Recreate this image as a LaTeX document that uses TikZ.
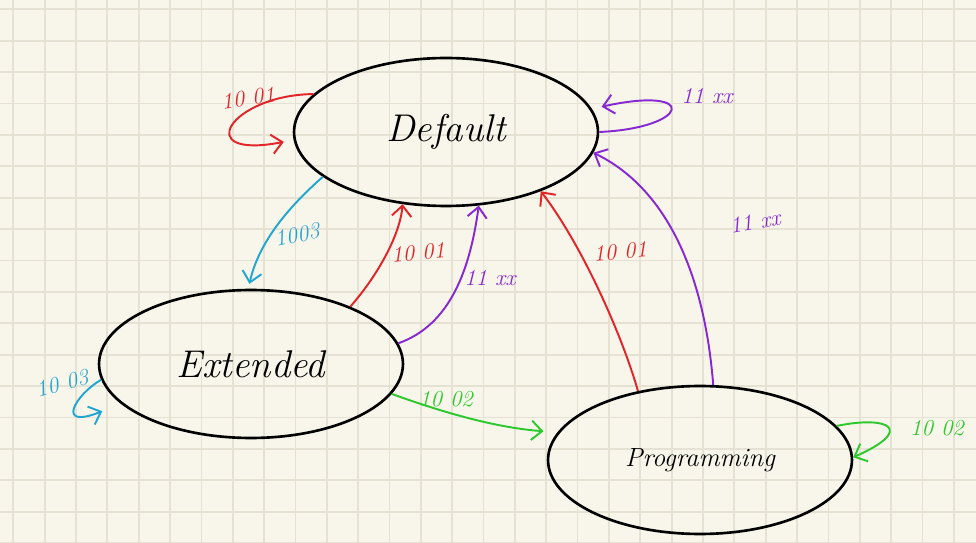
\documentclass[tikz,border=0pt]{standalone}
\usepackage{fontspec}
\usepackage{tikz}
\usetikzlibrary{shapes,arrows.meta}

\definecolor{paper}{RGB}{248,246,234}
\definecolor{gridcol}{RGB}{229,226,212}
\definecolor{penred}{RGB}{226,35,40}
\definecolor{penpurple}{RGB}{135,40,210}
\definecolor{penblue}{RGB}{35,165,210}
\definecolor{pengreen}{RGB}{45,200,45}

\begin{document}
\begin{tikzpicture}[
  x=0.02cm, y=-0.02cm,
  state/.style={draw,ellipse,line width=1.5pt,inner sep=0pt,
    minimum width=6.08cm,minimum height=2.96cm,
    font=\fontsize{22}{26}\selectfont\itshape},
  lbl/.style={font=\fontsize{13}{15}\selectfont\itshape},
  pen/.style={line width=1.1pt,-{Straight Barb[length=6pt,width=11pt]}}]

\useasboundingbox (0,0) rectangle (976,543);
% squared paper
\fill[paper] (0,0) rectangle (976,543);
\foreach \gx in {0,...,30}
  \draw[gridcol,line width=1pt] (13.3+31.35*\gx,0) -- (13.3+31.35*\gx,543);
\foreach \gy in {0,...,17}
  \draw[gridcol,line width=1pt] (0,9.3+31.4*\gy) -- (976,9.3+31.4*\gy);

\node[state] (def) at (446,132) {Default};
\node[state] (ext) at (251,364) {Extended};
\node[state,font=\fontsize{15}{18}\selectfont\itshape] (prog) at (700,460) {Programming};

% self loops
\draw[pen,penred,shorten >=2mm] (def.164) .. controls (230,95) and (190,160) .. (def.183);
\draw[pen,penpurple,shorten >=2mm] (def.0) .. controls (690,128) and (700,85) .. (def.9);
\draw[pen,pengreen] (prog.14) .. controls (890,415) and (915,430) .. (prog.1);
\draw[pen,penblue,shorten >=4mm] (ext.186) .. controls (75,395) and (55,430) .. (ext.197);

% transitions
\draw[pen,penblue,shorten >=1mm] (def.200) .. controls (285,210) and (258,245) .. (ext.92);
\draw[pen,penred] (ext.30) .. controls (378,275) and (400,235) .. (def.239);
\draw[pen,penpurple] (ext.8) .. controls (450,325) and (470,270) .. (def.294);
\draw[pen,penred] (prog.132) .. controls (622,335) and (582,245) .. (def.328);
\draw[pen,penpurple] (prog.80) .. controls (705,280) and (670,190) .. (def.352);
\draw[pen,pengreen,shorten >=8pt] (ext.-12) .. controls (450,415) and (500,428) .. (prog.169);

% labels
\node[lbl,penred,rotate=8] (l-dd) at (248,98) {10 01};
\node[lbl,penpurple] (l-dd2) at (707,96) {11 xx};
\node[lbl,penblue,rotate=12] (l-de) at (297,235) {1003};
\node[lbl,penred,rotate=5] (l-ed) at (418,253) {10 01};
\node[lbl,penpurple] (l-ed2) at (490,278) {11 xx};
\node[lbl,penred,rotate=5] (l-pd) at (620,252) {10 01};
\node[lbl,penpurple,rotate=10] (l-pd2) at (755,222) {11 xx};
\node[lbl,pengreen] (l-ep) at (446,399) {10 02};
\node[lbl,pengreen] (l-pp) at (937,428) {10 02};
\node[lbl,penblue,rotate=15] (l-ee) at (62,383) {10 03};

\end{tikzpicture}
\end{document}
